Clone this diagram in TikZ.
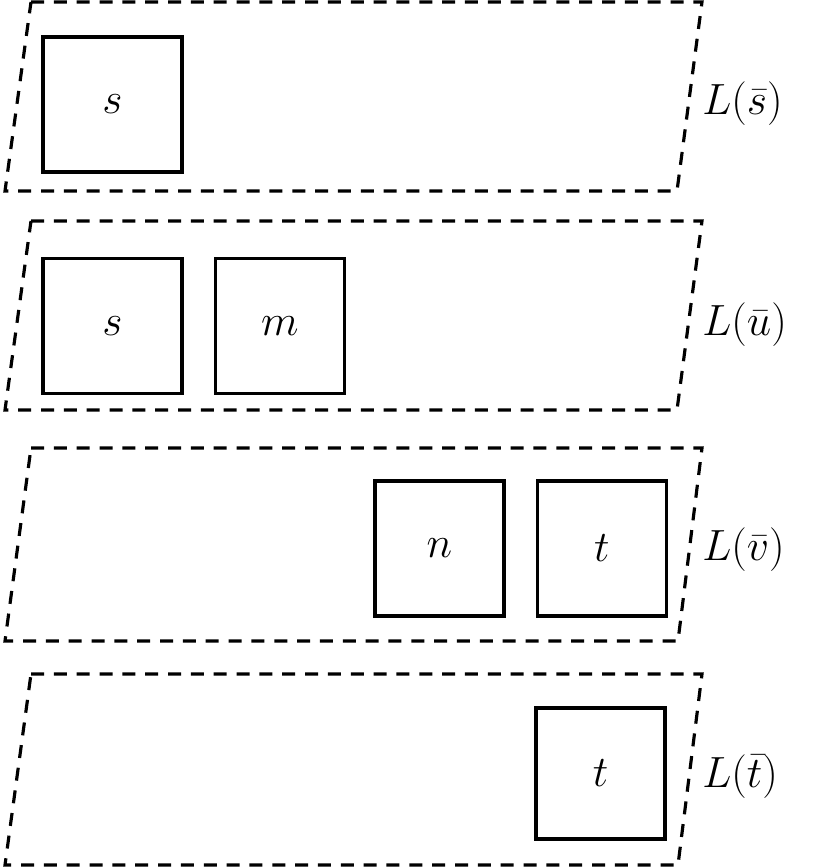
\documentclass[tikz,border=0pt]{standalone}
\usepackage{amsmath,amssymb}
\usepackage{tikz}
\usetikzlibrary{positioning}

\tikzset{
  cell/.style={draw, line width=1.9pt, minimum height=2.7cm, inner sep=0pt,
    font=\fontsize{24}{28}\selectfont},
  layer/.style={line width=1.8pt, dash pattern=on 7.4pt off 5.6pt},
  tag/.style={anchor=west, inner sep=0pt, font=\fontsize{24}{28}\selectfont}
}

\begin{document}
\begin{tikzpicture}[x=0.02cm, y=-0.02cm]
        \useasboundingbox (0,0) rectangle (830,867);

        % layer of s
        \draw[layer] (31,2) -- (702,2) -- (677,191) -- (5,191) -- cycle;
        \node[cell, minimum width=2.78cm] (s1) at (112.5,104.5) {$s$};
        \node[tag] (ls) at (702,104) {$L(\bar{s})$};

        % layer of u
        \draw[layer] (31,221) -- (702,221) -- (677,410) -- (5,410) -- cycle;
        \node[cell, minimum width=2.78cm] (s2) at (112.5,326) {$s$};
        \node[cell, minimum width=2.58cm, right=0.6cm of s2] (m) {$m$};
        \node[tag] (lu) at (702,325) {$L(\bar{u})$};

        % layer of v
        \draw[layer] (31,448) -- (702,448) -- (678,641) -- (5,641) -- cycle;
        \node[cell, minimum width=2.58cm] (n) at (439.5,548.5) {$n$};
        \node[cell, minimum width=2.58cm, right=0.6cm of n] (t1) {$t$};
        \node[tag] (lv) at (702,550) {$L(\bar{v})$};

        % layer of t
        \draw[layer] (31,674) -- (702,674) -- (678,865) -- (5,865) -- cycle;
        \node[cell, minimum width=2.58cm, minimum height=2.62cm] (t2) at (600.5,773.5) {$t$};
        \node[tag] (lt) at (702,777) {$L(\bar{t})$};
\end{tikzpicture}
\end{document}
